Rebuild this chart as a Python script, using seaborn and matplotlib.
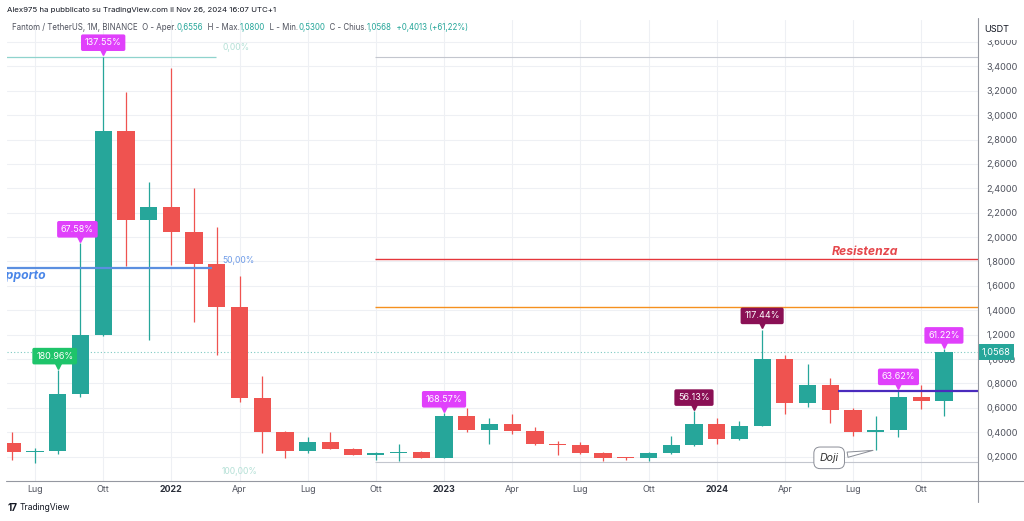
import numpy as np
import pandas as pd
import matplotlib
matplotlib.use("Agg")
import matplotlib.pyplot as plt
import seaborn as sns
from matplotlib import transforms as mtrans
from matplotlib.lines import Line2D
from matplotlib.patches import Rectangle

# ---------------- data ----------------
months = pd.date_range("2021-06-01", "2024-11-01", freq="MS").strftime("%Y-%m").tolist()
opens = [0.31, 0.235, 0.25, 0.71, 1.20, 2.87, 2.14, 2.25, 2.04, 1.78, 1.43, 0.68,
         0.40, 0.25, 0.32, 0.265, 0.215, 0.228, 0.237, 0.192, 0.534, 0.42, 0.468, 0.413,
         0.304, 0.292, 0.228, 0.192, 0.187, 0.228, 0.293, 0.466, 0.345, 0.45, 1.00, 0.64,
         0.786, 0.583, 0.405, 0.416, 0.687, 0.6556]
highs = [0.40, 0.27, 0.91, 1.95, 3.48, 3.19, 2.45, 3.39, 2.40, 2.08, 1.68, 0.86,
         0.41, 0.36, 0.40, 0.27, 0.235, 0.30, 0.25, 0.556, 0.60, 0.52, 0.548, 0.44,
         0.33, 0.32, 0.24, 0.20, 0.24, 0.37, 0.57, 0.515, 0.49, 1.24, 1.03, 0.96,
         0.846, 0.60, 0.53, 0.74, 0.79, 1.08]
lows = [0.17, 0.145, 0.22, 0.69, 1.19, 1.76, 1.16, 1.77, 1.30, 1.03, 0.65, 0.23,
        0.19, 0.23, 0.26, 0.21, 0.175, 0.16, 0.19, 0.19, 0.405, 0.30, 0.386, 0.296,
        0.214, 0.225, 0.168, 0.176, 0.16, 0.225, 0.29, 0.30, 0.34, 0.45, 0.55, 0.605,
        0.474, 0.37, 0.255, 0.36, 0.59, 0.53]
closes = [0.24, 0.25, 0.71, 1.20, 2.87, 2.14, 2.25, 2.04, 1.78, 1.43, 0.68, 0.40,
          0.25, 0.32, 0.265, 0.215, 0.228, 0.237, 0.192, 0.534, 0.42, 0.468, 0.413, 0.304,
          0.292, 0.228, 0.192, 0.186, 0.228, 0.293, 0.466, 0.345, 0.45, 1.00, 0.64, 0.786,
          0.583, 0.405, 0.413, 0.687, 0.655, 1.0568]

tick_months = ["2021-07", "2021-10", "2022-01", "2022-04", "2022-07", "2022-10", "2023-01",
               "2023-04", "2023-07", "2023-10", "2024-01", "2024-04", "2024-07", "2024-10"]
tick_labels = ["Lug", "Ott", "2022", "Apr", "Lug", "Ott", "2023", "Apr", "Lug", "Ott",
               "2024", "Apr", "Lug", "Ott"]
price_ticks = [0.2, 0.4, 0.6, 0.8, 1.0, 1.2, 1.4, 1.6, 1.8, 2.0, 2.2, 2.4, 2.6, 2.8,
               3.0, 3.2, 3.4, 3.6]

callout_months = ["2021-08", "2021-09", "2021-10", "2023-01", "2023-12", "2024-03", "2024-09", "2024-11"]
callout_texts = ["180.96%", "67.58%", "137.55%", "168.57%", "56.13%", "117.44%", "63.62%", "61.22%"]
callout_colors = ["#1ec46a", "#e040fb", "#e040fb", "#e040fb", "#8a1055", "#8a1055", "#e040fb", "#e040fb"]

fib_levels = [3.48, 1.75, 0.153]
fib_labels = ["0,00%", "50,00%", "100,00%"]
resistance_level = 1.822
orange_level = 1.428
purple_level = 0.739
last_price = 1.0568

df = pd.DataFrame({"month": months, "open": opens, "high": highs, "low": lows, "close": closes})
df["idx"] = np.arange(len(df))
df["up"] = df["close"] >= df["open"]

# ---------------- style ----------------
sns.set_theme(style="white")
plt.rcParams["font.family"] = ["Inter", "DejaVu Sans"]

GREEN = "#26a69a"
RED = "#ef5350"
GRID = "#eef0f4"
TXT = "#50535e"

fig = plt.figure(figsize=(10.24, 5.21), dpi=100)
W, H = 1024, 521
ax = fig.add_axes([7 / W, 40 / H, 971 / W, 461 / H])
ax.set_xlim(-0.233, 42.5)
ax.set_ylim(0.0, 3.78)

pos = {m: i for i, m in enumerate(months)}

# grid
for m in tick_months:
    ax.axvline(pos[m], color=GRID, lw=0.8, zorder=0)
for p in price_ticks:
    ax.axhline(p, color=GRID, lw=0.8, zorder=0)

# candles
colors = np.where(df["up"], GREEN, RED)
ax.vlines(df["idx"], df["low"], df["high"], colors=colors, lw=0.9, zorder=2)
body_bottom = np.minimum(df["open"], df["close"])
body_h = np.maximum(np.abs(df["close"] - df["open"]), 0.012)
ax.bar(df["idx"], body_h, bottom=body_bottom, width=0.76, color=colors, zorder=3, linewidth=0)

# horizontal levels
right = 42.5
xr0 = 15.96
ax.hlines([fib_levels[0], fib_levels[2]], xr0, right, color="#c3c6ce", lw=0.8, zorder=1)
ax.hlines(fib_levels[0], -0.3, 8.95, color="#8fd3cd", lw=0.9, zorder=1)
ax.hlines(fib_levels[1], -0.3, 8.8, color="#5b8fe0", lw=1.6, zorder=4)
ax.hlines(resistance_level, xr0, right, color="#e5363b", lw=1.0, zorder=1)
ax.hlines(orange_level, xr0, right, color="#f5901e", lw=1.0, zorder=1)
ax.hlines(purple_level, 36.34, right, color="#4a2bbd", lw=1.6, zorder=4)
ax.axhline(last_price, color=GREEN, lw=0.8, ls=(0, (1, 2)), alpha=0.6, zorder=1)

# fib labels
fib_y = [3.553, 1.81, 0.075]
fib_cols = ["#b4e0d6", "#6f9ce8", "#b4e0d6"]
for lab, yv, c in zip(fib_labels, fib_y, fib_cols):
    ax.text(9.23, yv, lab, color=c, fontsize=6.2, ha="left", va="center", zorder=5)

ax.text(36.08, 1.88, "Resistenza", color="#e5484d", fontsize=8.8, fontweight="bold",
        style="italic", ha="left", va="center", zorder=5)
ax.text(-0.94, 1.68, "Supporto", color="#4a86e8", fontsize=8.8, fontweight="bold",
        style="italic", ha="left", va="center", zorder=5, clip_on=True)

# callouts
dx = {"2021-08": -2.2, "2021-09": -2.2}
for m, t, c in zip(callout_months, callout_texts, callout_colors):
    i = pos[m]
    hv = df.loc[i, "high"]
    tri = mtrans.offset_copy(ax.transData, fig=fig, x=0, y=3.2, units="points")
    ax.plot(i, hv, marker="v", ms=4.5, color=c, transform=tri, zorder=6, clip_on=False)
    ax.annotate(t, xy=(i, hv), xytext=(dx.get(m, 0), 10.0), textcoords="offset points",
                ha="center", va="center", fontsize=6.5, color="white", zorder=7,
                bbox=dict(boxstyle="round,pad=0.42,rounding_size=0.2", fc=c, ec="none"),
                annotation_clip=False)

# Doji callout
ax.annotate("Doji", xy=(38, 0.255), xytext=(35.95, 0.19), fontsize=7.6, style="italic",
            color="#333333", ha="center", va="center", zorder=7,
            bbox=dict(boxstyle="round,pad=0.55,rounding_size=0.6", fc="white", ec="#8a8d96", lw=0.7),
            arrowprops=dict(arrowstyle="wedge,tail_width=0.5,shrink_factor=0.5", fc="white",
                            ec="#8a8d96", lw=0.7))

# axes styling
for s in ["top", "left", "right", "bottom"]:
    ax.spines[s].set_visible(False)

ax.yaxis.tick_right()
ax.set_yticks(price_ticks)
ax.set_yticklabels([f"{p:.4f}".replace(".", ",") for p in price_ticks])
ax.tick_params(axis="y", length=0, pad=6, labelsize=6.6, labelcolor=TXT)
ax.set_xticks([pos[m] for m in tick_months])
ax.set_xticklabels(tick_labels)
ax.tick_params(axis="x", length=0, pad=3, labelsize=6.4, labelcolor=TXT)
for lbl in ax.get_xticklabels():
    if lbl.get_text().isdigit():
        lbl.set_fontweight("bold")
        lbl.set_color("#2a2e39")

# frame lines
fig.add_artist(Line2D([978 / W, 978 / W], [1 - 502 / H, 1 - 18 / H], color="#9598a1", lw=0.8))
fig.add_artist(Line2D([6 / W, 1.0], [1 - 481 / H, 1 - 481 / H], color="#9598a1", lw=0.8))

# price tag
ax.annotate("1,0568", xy=(1, last_price), xycoords=("axes fraction", "data"),
            xytext=(2.6, 0), textcoords="offset points", ha="left", va="center",
            fontsize=6.6, color="white", annotation_clip=False, zorder=8,
            bbox=dict(boxstyle="square,pad=0.35", fc=GREEN, ec="none"))

# USDT header of price scale (covers upper part of 3,6000)
fig.add_artist(Rectangle((980 / W, 1 - 40 / H), 42 / W, 22 / H, transform=fig.transFigure,
                         fc="white", ec="none", zorder=5))
fig.text(997 / W, 1 - 29 / H, "USDT", ha="center", va="center", fontsize=6.6,
         color="#131722", zorder=6)

# header
fig.text(7 / W, 1 - 10 / H, "Alex975 ha pubblicato su TradingView.com il Nov 26, 2024 16:07 UTC+1",
         fontsize=5.65, color="#131722", ha="left", va="center")
parts = [("Fantom / TetherUS, 1M, BINANCE  O - Aper.", "#50535e"), ("0,6556", GREEN),
         ("  H - Max.", "#50535e"), ("1,0800", GREEN), ("  L - Min.", "#50535e"),
         ("0,5300", GREEN), ("  C - Chius.", "#50535e"), ("1,0568", GREEN),
         ("  +0,4013 (+61,22%)", GREEN)]
prev = fig.text(12 / W, 1 - 28 / H, parts[0][0], fontsize=5.7, color=parts[0][1],
                ha="left", va="center")
for s, c in parts[1:]:
    prev = ax.annotate(s, xy=(1, 0.5), xycoords=prev, ha="left", va="center",
                       fontsize=5.7, color=c, annotation_clip=False)

# footer logo
fig.text(7 / W, 1 - 508 / H, "17", fontsize=7, fontweight="bold", color="#131722",
         ha="left", va="center")
fig.text(20 / W, 1 - 508 / H, "TradingView", fontsize=6.2, color="#131722",
         ha="left", va="center")

fig.savefig("out.png", dpi=100, facecolor="white")
